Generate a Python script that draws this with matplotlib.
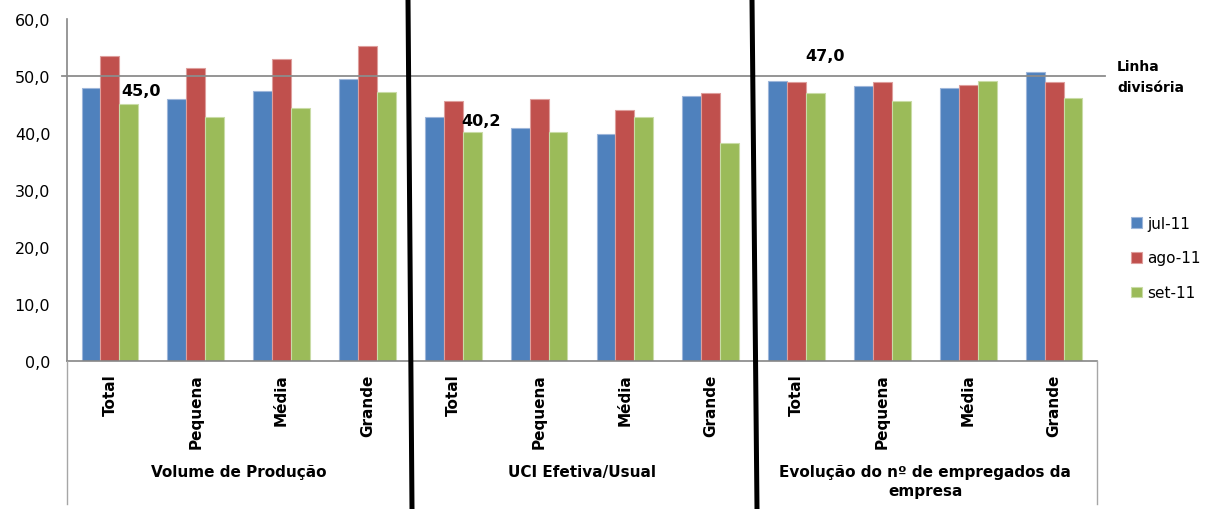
import numpy as np
import matplotlib
matplotlib.use("Agg")
import matplotlib.pyplot as plt
from matplotlib.lines import Line2D
from matplotlib.transforms import blended_transform_factory

# Data
sizes = ["Total", "Pequena", "Média", "Grande"]
groups = ["Volume de Produção", "UCI Efetiva/Usual", "Evolução do nº de empregados da\nempresa"]
series = ["jul-11", "ago-11", "set-11"]

jul_11 = [47.8, 45.9, 47.3, 49.4,
          42.8, 40.8, 39.8, 46.4,
          49.1, 48.1, 47.8, 50.6]
ago_11 = [53.4, 51.4, 52.9, 55.2,
          45.6, 45.9, 43.9, 46.9,
          48.9, 48.9, 48.3, 48.9]
set_11 = [45.0, 42.8, 44.3, 47.1,
          40.2, 40.2, 42.8, 38.2,
          47.0, 45.6, 49.1, 46.1]

dividing_line = 50.0
y_ticks = [0, 10, 20, 30, 40, 50, 60]

colors = ["#4F81BD", "#C0504D", "#9BBB59"]
edges = ["#9DB6DA", "#DE9E9C", "#C9DCA6"]

W, H = 1206, 510
fig = plt.figure(figsize=(W / 100, H / 100), dpi=100)
ax = fig.add_axes([67 / W, 1 - 362 / H, (1097 - 67) / W, (362 - 19.5) / H])

labels = sizes * len(groups)
x = np.arange(len(labels))
w = 0.22
for i, (vals, name) in enumerate(zip([jul_11, ago_11, set_11], series)):
    ax.bar(x + (i - 1) * w, vals, width=w, color=colors[i], edgecolor=edges[i],
           linewidth=0.8, label=name, zorder=2)

ax.set_xlim(-0.5, len(labels) - 0.5)
ax.set_ylim(0, 60)
ax.set_yticks(y_ticks)
ax.set_yticklabels([f"{v:.1f}".replace(".", ",") for v in y_ticks], fontsize=11.5)
ax.tick_params(axis="y", length=0, pad=12)
ax.set_xticks(x)
ax.set_xticklabels(labels, rotation=90, fontsize=11, fontweight="bold")
ax.tick_params(axis="x", length=0, pad=9)

for side in ["top", "right"]:
    ax.spines[side].set_visible(False)
for side in ["left", "bottom"]:
    ax.spines[side].set_color("#868686")
    ax.spines[side].set_linewidth(1.2)

# dividing line across the whole chart
bt = blended_transform_factory(fig.transFigure, ax.transData)
ax.plot([62 / W, 1105 / W], [dividing_line, dividing_line], color="#8C8C8C",
        lw=1.3, transform=bt, clip_on=False, zorder=3)
fig.text(1117 / W, 1 - 67 / H, "Linha", fontsize=10, fontweight="bold", va="center")
fig.text(1117 / W, 1 - 88 / H, "divisória", fontsize=10, fontweight="bold", va="center")

# value labels on the set-11 total bars
label_idx = [0, 4, 8]
offsets = [(12, 14), (9, 11), (10, 37)]
for idx, (dx, dy) in zip(label_idx, offsets):
    ax.annotate(f"{set_11[idx]:.1f}".replace(".", ","), (x[idx] + w, set_11[idx]),
                xytext=(dx * 0.72, dy * 0.72), textcoords="offset points",
                ha="center", va="center", fontsize=11.5, fontweight="bold")

# group labels
gt = blended_transform_factory(ax.transData, fig.transFigure)
for g, name in enumerate(groups):
    cx = x[g * 4:(g + 1) * 4].mean()
    ax.text(cx, 1 - (472 if "\n" not in name else 482) / H, name, transform=gt,
            ha="center", va="center", fontsize=11, fontweight="bold",
            linespacing=1.3)

# category frame lines below the axis
for px in [67, 1097]:
    fig.add_artist(Line2D([px / W, px / W], [1 - 362 / H, 1 - 505 / H],
                          color="#A6A6A6", lw=1.0))

# thick black separators between the groups
for top, bot in [(408, 412), (752, 757)]:
    fig.add_artist(Line2D([top / W, bot / W], [1, 0], color="black", lw=3.6))

fig.legend(loc="center left", bbox_to_anchor=(1131 / W, 1 - 259 / H),
           frameon=False, fontsize=11, handlelength=0.72, handleheight=0.72,
           handletextpad=0.35, labelspacing=1.3, borderpad=0, borderaxespad=0)

fig.savefig("out.png", dpi=100)
